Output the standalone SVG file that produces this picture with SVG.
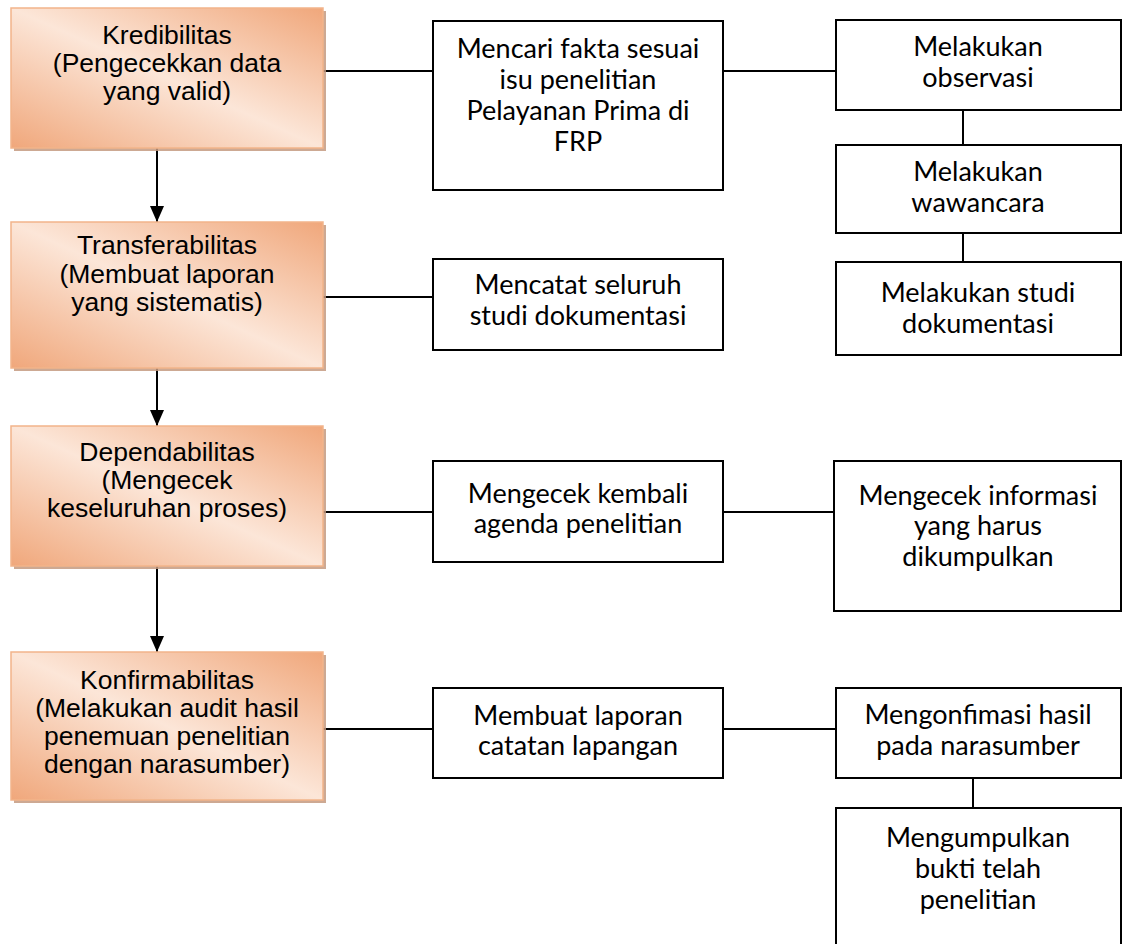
<svg xmlns="http://www.w3.org/2000/svg" width="1123" height="944" viewBox="0 0 1123 944">
<style>
.ob{fill:url(#og);stroke:#F2B48A;stroke-width:1.5}
.sh{fill:#C49A80;opacity:0.85}
.wb{fill:#fff;stroke:#000;stroke-width:2}
.ot{font-family:"Liberation Sans",Arial,sans-serif;font-size:26.5px;fill:#000;text-anchor:middle}
.wt{font-family:Lato,"Open Sans",sans-serif;font-size:27px;fill:#000;text-anchor:middle}
.ln{stroke:#000;stroke-width:2;fill:none}
</style>
<defs>
<linearGradient id="og" x1="1" y1="0" x2="0" y2="1">
<stop offset="0" stop-color="#F0A77B"/>
<stop offset="0.5" stop-color="#FCE6D8"/>
<stop offset="1" stop-color="#F0A77B"/>
</linearGradient>
<marker id="ar" markerWidth="16" markerHeight="14" refX="16" refY="7" orient="auto" markerUnits="userSpaceOnUse" viewBox="0 0 16 14">
<path d="M0,0 L16,7 L0,14 Z" fill="#000"/>
</marker>
</defs>

<g id="connectors">
<line class="ln" x1="157" y1="148" x2="157" y2="222" marker-end="url(#ar)"/>
<line class="ln" x1="157" y1="368" x2="157" y2="426" marker-end="url(#ar)"/>
<line class="ln" x1="157" y1="566" x2="157" y2="652" marker-end="url(#ar)"/>
<line class="ln" x1="323" y1="71" x2="433" y2="71"/>
<line class="ln" x1="723" y1="71" x2="836" y2="71"/>
<line class="ln" x1="963" y1="110" x2="963" y2="145"/>
<line class="ln" x1="963" y1="233" x2="963" y2="262"/>
<line class="ln" x1="323" y1="297" x2="433" y2="297"/>
<line class="ln" x1="323" y1="512" x2="433" y2="512"/>
<line class="ln" x1="723" y1="512" x2="834" y2="512"/>
<line class="ln" x1="323" y1="729" x2="433" y2="729"/>
<line class="ln" x1="723" y1="729" x2="836" y2="729"/>
<line class="ln" x1="973" y1="778" x2="973" y2="808"/>
</g>

<g id="kredibilitas">
<rect class="sh" x="14" y="11" width="312" height="140"/>
<rect class="ob" x="11" y="8" width="312" height="140"/>
<text class="ot" x="167" y="44">Kredibilitas</text>
<text class="ot" x="167" y="72">(Pengecekkan data</text>
<text class="ot" x="167" y="100">yang valid)</text>
</g>

<g id="transferabilitas">
<rect class="sh" x="14" y="225" width="312" height="146"/>
<rect class="ob" x="11" y="222" width="312" height="146"/>
<text class="ot" x="167" y="254">Transferabilitas</text>
<text class="ot" x="167" y="283">(Membuat laporan</text>
<text class="ot" x="167" y="311">yang sistematis)</text>
</g>

<g id="dependabilitas">
<rect class="sh" x="14" y="429" width="312" height="140"/>
<rect class="ob" x="11" y="426" width="312" height="140"/>
<text class="ot" x="167" y="461">Dependabilitas</text>
<text class="ot" x="167" y="489">(Mengecek</text>
<text class="ot" x="167" y="517">keseluruhan proses)</text>
</g>

<g id="konfirmabilitas">
<rect class="sh" x="14" y="655" width="312" height="148"/>
<rect class="ob" x="11" y="652" width="312" height="148"/>
<text class="ot" x="167" y="689">Konfirmabilitas</text>
<text class="ot" x="167" y="717">(Melakukan audit hasil</text>
<text class="ot" x="167" y="745">penemuan penelitian</text>
<text class="ot" x="167" y="773">dengan narasumber)</text>
</g>

<g id="mencari-fakta">
<rect class="wb" x="433" y="21" width="290" height="169"/>
<text class="wt" x="578" y="58">Mencari fakta sesuai</text>
<text class="wt" x="578" y="89">isu penelitian</text>
<text class="wt" x="578" y="120">Pelayanan Prima di</text>
<text class="wt" x="578" y="151">FRP</text>
</g>

<g id="mencatat">
<rect class="wb" x="433" y="259" width="290" height="91"/>
<text class="wt" x="578" y="294">Mencatat seluruh</text>
<text class="wt" x="578" y="325">studi dokumentasi</text>
</g>

<g id="mengecek-kembali">
<rect class="wb" x="433" y="461" width="290" height="101"/>
<text class="wt" x="578" y="503">Mengecek kembali</text>
<text class="wt" x="578" y="533">agenda penelitian</text>
</g>

<g id="membuat-laporan">
<rect class="wb" x="433" y="688" width="290" height="90"/>
<text class="wt" x="578" y="725">Membuat laporan</text>
<text class="wt" x="578" y="755">catatan lapangan</text>
</g>

<g id="observasi">
<rect class="wb" x="836" y="20" width="285" height="90"/>
<text class="wt" x="978" y="56">Melakukan</text>
<text class="wt" x="978" y="87">observasi</text>
</g>

<g id="wawancara">
<rect class="wb" x="836" y="145" width="285" height="88"/>
<text class="wt" x="978" y="181">Melakukan</text>
<text class="wt" x="978" y="212">wawancara</text>
</g>

<g id="studi-dokumentasi">
<rect class="wb" x="836" y="262" width="285" height="93"/>
<text class="wt" x="978" y="302">Melakukan studi</text>
<text class="wt" x="978" y="333">dokumentasi</text>
</g>

<g id="mengecek-informasi">
<rect class="wb" x="834" y="461" width="287" height="150"/>
<text class="wt" x="978" y="505">Mengecek informasi</text>
<text class="wt" x="978" y="535">yang harus</text>
<text class="wt" x="978" y="566">dikumpulkan</text>
</g>

<g id="mengonfimasi">
<rect class="wb" x="836" y="688" width="285" height="90"/>
<text class="wt" x="978" y="724">Mengonfimasi hasil</text>
<text class="wt" x="978" y="755">pada narasumber</text>
</g>

<g id="mengumpulkan">
<rect class="wb" x="836" y="808" width="285" height="150"/>
<text class="wt" x="978" y="847">Mengumpulkan</text>
<text class="wt" x="978" y="878">bukti telah</text>
<text class="wt" x="978" y="909">penelitian</text>
</g>
</svg>
